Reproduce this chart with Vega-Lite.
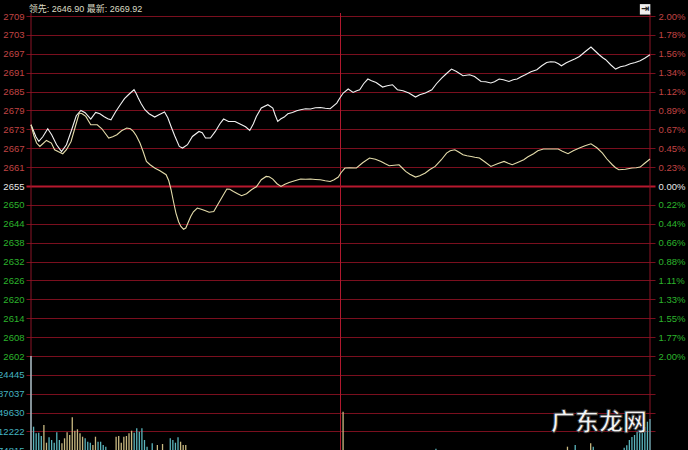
{
"$schema": "https://vega.github.io/schema/vega-lite/v6.json",
"width": 629,
"height": 437,
"autosize": {"type": "none"},
"padding": {"left": 26, "top": 13, "right": 33, "bottom": 0},
"background": "#000000",
"config": {"view": {"stroke": null}, "axis": {"labelFont": "Liberation Sans", "labelFontSize": 9.5, "ticks": false, "domain": false}},
"datasets": {
"white": [{"m":0,"p":2674.55},{"m":1.91,"p":2670.81},{"m":3.05,"p":2669.34},{"m":4.58,"p":2670.81},{"m":6.49,"p":2673.3},{"m":8.01,"p":2671.43},{"m":9.92,"p":2668.31},{"m":11.83,"p":2666.21},{"m":13.74,"p":2668.31},{"m":15.64,"p":2672.68},{"m":17.55,"p":2677.37},{"m":19.35,"p":2679.02},{"m":20.99,"p":2678.3},{"m":23.16,"p":2676.33},{"m":25.07,"p":2678.4},{"m":26.71,"p":2677.99},{"m":28.24,"p":2677.15},{"m":29.76,"p":2676.43},{"m":31.02,"p":2676.12},{"m":32.81,"p":2678.61},{"m":34.61,"p":2680.8},{"m":36.25,"p":2682.68},{"m":37.77,"p":2683.92},{"m":39.95,"p":2685.49},{"m":40.83,"p":2684.24},{"m":41.59,"p":2682.89},{"m":42.73,"p":2681.11},{"m":44.15,"p":2679.24},{"m":45.79,"p":2677.99},{"m":47.96,"p":2676.96},{"m":49.6,"p":2677.68},{"m":51.78,"p":2678.52},{"m":53.04,"p":2676.74},{"m":54.3,"p":2674.02},{"m":55.71,"p":2671.12},{"m":57.5,"p":2667.78},{"m":58.76,"p":2667.28},{"m":60.67,"p":2668.31},{"m":62.58,"p":2670.9},{"m":65.13,"p":2672.46},{"m":66.39,"p":2672.06},{"m":67.65,"p":2670.4},{"m":69.56,"p":2670.4},{"m":71.47,"p":2672.46},{"m":73.26,"p":2674.87},{"m":74.67,"p":2676.33},{"m":76.58,"p":2675.59},{"m":79.1,"p":2675.59},{"m":81.65,"p":2674.55},{"m":83.18,"p":2673.93},{"m":84.82,"p":2672.77},{"m":86.23,"p":2674.87},{"m":87.38,"p":2677.15},{"m":89.29,"p":2679.77},{"m":91.84,"p":2680.8},{"m":93.75,"p":2679.77},{"m":94.63,"p":2677.68},{"m":95.66,"p":2675.59},{"m":96.92,"p":2676.43},{"m":98.18,"p":2676.96},{"m":99.59,"p":2677.99},{"m":101.38,"p":2678.4},{"m":103.02,"p":2678.93},{"m":104.55,"p":2679.24},{"m":106.46,"p":2679.55},{"m":108.36,"p":2679.46},{"m":110.27,"p":2679.86},{"m":112.18,"p":2679.96},{"m":114.09,"p":2679.71},{"m":116.0,"p":2679.55},{"m":118.55,"p":2681.33},{"m":119.81,"p":2682.99},{"m":121.07,"p":2684.46},{"m":122.98,"p":2685.71},{"m":124.89,"p":2684.64},{"m":126.3,"p":2685.17},{"m":127.44,"p":2685.49},{"m":128.97,"p":2687.36},{"m":130.61,"p":2688.83},{"m":132.02,"p":2688.3},{"m":133.81,"p":2687.77},{"m":136.33,"p":2686.33},{"m":138.12,"p":2686.74},{"m":140.15,"p":2687.05},{"m":142.06,"p":2685.49},{"m":144.23,"p":2685.17},{"m":146.52,"p":2684.46},{"m":149.08,"p":2683.21},{"m":150.72,"p":2683.92},{"m":152.89,"p":2684.46},{"m":155.41,"p":2685.49},{"m":157.2,"p":2687.36},{"m":159.22,"p":2689.14},{"m":161.02,"p":2690.48},{"m":163.04,"p":2691.95},{"m":164.95,"p":2691.2},{"m":167.5,"p":2689.86},{"m":170.06,"p":2690.17},{"m":171.97,"p":2689.64},{"m":174.49,"p":2688.08},{"m":176.28,"p":2687.99},{"m":178.3,"p":2687.58},{"m":179.71,"p":2687.99},{"m":181.51,"p":2688.83},{"m":183.15,"p":2688.61},{"m":185.32,"p":2688.08},{"m":186.96,"p":2688.61},{"m":188.49,"p":2688.83},{"m":190.02,"p":2689.55},{"m":191.66,"p":2690.17},{"m":193.83,"p":2691.11},{"m":196.12,"p":2691.73},{"m":198.03,"p":2692.98},{"m":199.94,"p":2694.01},{"m":201.46,"p":2694.23},{"m":203.1,"p":2694.14},{"m":204.52,"p":2693.61},{"m":205.66,"p":2692.98},{"m":207.57,"p":2693.92},{"m":209.48,"p":2694.64},{"m":211.0,"p":2695.17},{"m":212.64,"p":2695.89},{"m":214.82,"p":2697.36},{"m":217.11,"p":2698.82},{"m":218.63,"p":2697.67},{"m":220.28,"p":2696.42},{"m":221.69,"p":2695.48},{"m":222.83,"p":2694.86},{"m":224.74,"p":2693.3},{"m":226.65,"p":2691.95},{"m":228.55,"p":2692.67},{"m":230.46,"p":2692.98},{"m":232.37,"p":2693.61},{"m":234.28,"p":2694.01},{"m":236.19,"p":2694.54},{"m":238.09,"p":2695.39},{"m":240,"p":2696.42}],
"yellow": [{"m":0,"p":2674.55},{"m":1.14,"p":2671.12},{"m":2.17,"p":2668.84},{"m":3.43,"p":2667.78},{"m":4.58,"p":2668.62},{"m":5.99,"p":2669.65},{"m":7.9,"p":2668.84},{"m":9.16,"p":2666.75},{"m":10.68,"p":2666.12},{"m":12.32,"p":2665.5},{"m":13.74,"p":2666.75},{"m":15.53,"p":2669.34},{"m":17.17,"p":2673.93},{"m":18.7,"p":2678.21},{"m":19.84,"p":2677.99},{"m":21.25,"p":2677.15},{"m":23.16,"p":2674.55},{"m":25.68,"p":2674.55},{"m":27.47,"p":2673.3},{"m":30.14,"p":2670.4},{"m":31.67,"p":2670.81},{"m":33.31,"p":2671.43},{"m":35.1,"p":2672.68},{"m":37.13,"p":2673.52},{"m":38.54,"p":2673.3},{"m":39.68,"p":2672.46},{"m":40.83,"p":2671.12},{"m":42.24,"p":2668.84},{"m":43.5,"p":2666.12},{"m":44.76,"p":2663.09},{"m":46.17,"p":2662.06},{"m":47.96,"p":2661.03},{"m":49.98,"p":2660.19},{"m":52.39,"p":2658.94},{"m":53.42,"p":2657.06},{"m":54.3,"p":2654.25},{"m":55.33,"p":2650.19},{"m":56.2,"p":2646.97},{"m":57.23,"p":2644.26},{"m":58.11,"p":2642.79},{"m":59.14,"p":2641.91},{"m":60.02,"p":2642.29},{"m":61.05,"p":2644.26},{"m":61.93,"p":2645.91},{"m":62.96,"p":2647.38},{"m":64.48,"p":2648.54},{"m":66.01,"p":2648.16},{"m":67.65,"p":2647.69},{"m":69.06,"p":2647.22},{"m":70.86,"p":2647.47},{"m":72.76,"p":2650.1},{"m":74.4,"p":2652.38},{"m":75.93,"p":2654.47},{"m":77.08,"p":2654.41},{"m":78.49,"p":2653.72},{"m":80.13,"p":2653.0},{"m":81.65,"p":2652.38},{"m":83.56,"p":2653.0},{"m":85.47,"p":2654.25},{"m":87.38,"p":2655.19},{"m":89.29,"p":2657.38},{"m":91.19,"p":2658.41},{"m":92.34,"p":2658.31},{"m":93.75,"p":2657.59},{"m":95.39,"p":2656.13},{"m":96.92,"p":2655.28},{"m":98.44,"p":2655.97},{"m":100.08,"p":2656.53},{"m":102.26,"p":2657.06},{"m":104.55,"p":2657.59},{"m":106.46,"p":2657.53},{"m":108.36,"p":2657.59},{"m":110.27,"p":2657.47},{"m":112.18,"p":2657.38},{"m":114.09,"p":2657.06},{"m":116.0,"p":2656.84},{"m":117.52,"p":2657.38},{"m":119.16,"p":2658.22},{"m":120.19,"p":2659.56},{"m":121.72,"p":2661.03},{"m":123.63,"p":2661.12},{"m":126.18,"p":2661.03},{"m":128.59,"p":2662.69},{"m":131.26,"p":2664.15},{"m":133.55,"p":2663.78},{"m":135.72,"p":2663.09},{"m":137.36,"p":2662.37},{"m":138.89,"p":2661.75},{"m":140.8,"p":2661.9},{"m":142.7,"p":2662.06},{"m":143.85,"p":2661.12},{"m":145.26,"p":2659.97},{"m":146.9,"p":2659.09},{"m":149.08,"p":2658.22},{"m":150.72,"p":2658.62},{"m":152.89,"p":2659.47},{"m":154.53,"p":2660.5},{"m":156.71,"p":2661.53},{"m":159.11,"p":2663.62},{"m":161.13,"p":2665.71},{"m":162.54,"p":2666.43},{"m":164.34,"p":2666.75},{"m":165.98,"p":2665.96},{"m":167.5,"p":2665.18},{"m":169.03,"p":2664.87},{"m":170.67,"p":2664.65},{"m":172.08,"p":2664.4},{"m":173.88,"p":2664.15},{"m":175.9,"p":2663.0},{"m":178.3,"p":2661.53},{"m":180.86,"p":2662.37},{"m":183.41,"p":2663.09},{"m":185.06,"p":2662.53},{"m":186.58,"p":2662.06},{"m":188.87,"p":2662.84},{"m":191.05,"p":2663.62},{"m":192.69,"p":2664.56},{"m":194.86,"p":2665.5},{"m":196.5,"p":2666.43},{"m":198.68,"p":2666.96},{"m":201.46,"p":2666.96},{"m":204.4,"p":2666.96},{"m":206.04,"p":2666.28},{"m":208.22,"p":2665.5},{"m":210.24,"p":2666.43},{"m":212.64,"p":2667.28},{"m":214.82,"p":2667.99},{"m":217.11,"p":2668.62},{"m":219.4,"p":2667.37},{"m":221.57,"p":2665.71},{"m":223.21,"p":2663.93},{"m":225.39,"p":2662.06},{"m":226.65,"p":2661.12},{"m":227.91,"p":2660.5},{"m":230.46,"p":2660.65},{"m":233.02,"p":2661.03},{"m":234.66,"p":2661.12},{"m":236.19,"p":2661.34},{"m":237.71,"p":2662.37},{"m":240,"p":2663.84}],
"volume": [{"m":0,"v":262000,"d":"open"},{"m":1,"v":121600,"d":"down"},{"m":2,"v":108500,"d":"down"},{"m":3,"v":109700,"d":"down"},{"m":4,"v":103150,"d":"down"},{"m":5,"v":124970,"d":"up"},{"m":6,"v":89860,"d":"up"},{"m":7,"v":100570,"d":"down"},{"m":8,"v":95220,"d":"down"},{"m":9,"v":89860,"d":"down"},{"m":10,"v":110490,"d":"down"},{"m":11,"v":95220,"d":"down"},{"m":12,"v":88670,"d":"up"},{"m":13,"v":98590,"d":"up"},{"m":14,"v":110490,"d":"up"},{"m":15,"v":105140,"d":"up"},{"m":16,"v":140250,"d":"up"},{"m":17,"v":113670,"d":"up"},{"m":18,"v":116440,"d":"up"},{"m":19,"v":108500,"d":"up"},{"m":20,"v":101760,"d":"up"},{"m":21,"v":98590,"d":"down"},{"m":22,"v":91840,"d":"down"},{"m":23,"v":89860,"d":"down"},{"m":24,"v":85300,"d":"up"},{"m":25,"v":101760,"d":"up"},{"m":26,"v":91840,"d":"down"},{"m":27,"v":91840,"d":"down"},{"m":28,"v":85300,"d":"down"},{"m":29,"v":81930,"d":"down"},{"m":33,"v":101760,"d":"up"},{"m":34,"v":103150,"d":"up"},{"m":35,"v":89860,"d":"up"},{"m":36,"v":101760,"d":"up"},{"m":37,"v":103150,"d":"up"},{"m":38,"v":108500,"d":"up"},{"m":39,"v":113670,"d":"up"},{"m":40,"v":109700,"d":"down"},{"m":41,"v":118430,"d":"down"},{"m":42,"v":111680,"d":"down"},{"m":43,"v":118430,"d":"down"},{"m":44,"v":95220,"d":"down"},{"m":45,"v":81930,"d":"down"},{"m":47,"v":88670,"d":"down"},{"m":49,"v":85300,"d":"up"},{"m":51,"v":87280,"d":"up"},{"m":54,"v":98590,"d":"down"},{"m":55,"v":95220,"d":"down"},{"m":56,"v":89860,"d":"down"},{"m":57,"v":100570,"d":"down"},{"m":58,"v":91840,"d":"up"},{"m":59,"v":85300,"d":"up"},{"m":60,"v":85300,"d":"up"},{"m":121,"v":151360,"d":"up"},{"m":157,"v":78000,"d":"down"},{"m":208,"v":81930,"d":"up"},{"m":211,"v":85300,"d":"down"},{"m":217,"v":88670,"d":"up"},{"m":218,"v":81930,"d":"down"},{"m":230,"v":80000,"d":"down"},{"m":231,"v":85000,"d":"down"},{"m":232,"v":95220,"d":"down"},{"m":233,"v":101170,"d":"down"},{"m":234,"v":105140,"d":"down"},{"m":235,"v":111680,"d":"down"},{"m":236,"v":113000,"d":"down"},{"m":237,"v":115050,"d":"down"},{"m":238,"v":121000,"d":"down"},{"m":239,"v":131520,"d":"down"},{"m":240,"v":136880,"d":"down"}],
"header": [{"m": -0.9, "p": 2710.85, "t": "领先: 2646.90 最新: 2669.92"}],
"icon": [{"m": 238.1, "p": 2710.6, "t": "⇥"}]
},
"resolve": {"scale": {"y": "independent"}, "axis": {"y": "independent"}},
"layer": [
{
"data": {"values": [{"m": 0}, {"m": 240}]},
"mark": {"type": "rule", "color": "#8c1426", "strokeWidth": 1},
"encoding": {"x": {"field": "m", "type": "quantitative", "scale": {"domain": [0, 240], "nice": false}, "axis": null}}
},
{
"data": {"values": [{"m": 120}]},
"mark": {"type": "rule", "color": "#b0182e", "strokeWidth": 1},
"encoding": {"x": {"field": "m", "type": "quantitative", "scale": {"domain": [0, 240], "nice": false}, "axis": null}}
},
{
"data": {"name": "volume"},
"mark": {"type": "bar", "size": 1.3},
"encoding": {
"x": {"field": "m", "type": "quantitative", "scale": {"domain": [0, 240], "nice": false}, "axis": null},
"y": {"field": "v", "type": "quantitative", "scale": {"domain": [0, 261852], "range": [475, 343], "nice": false, "zero": true},
"axis": {"orient": "left", "title": null, "values": [74814.86, 112222.29, 149629.71, 187037.14, 224444.57], "format": "d", "labelColor": "#44b4c0", "labelPadding": 2, "grid": true, "gridColor": "#7a0f1e", "gridWidth": 1}},
"color": {"field": "d", "type": "nominal", "scale": {"domain": ["open", "up", "down"], "range": ["#a8dce0", "#c8b880", "#5ab4bc"]}, "legend": null}
}
},
{
"data": {"name": "white"},
"mark": {"type": "line", "color": "#f2f2f2", "strokeWidth": 1.1},
"encoding": {
"x": {"field": "m", "type": "quantitative", "scale": {"domain": [0, 240], "nice": false}, "axis": null},
"y": {"field": "p", "type": "quantitative", "scale": {"domain": [2602.32, 2708.52], "range": [343, 3], "nice": false, "zero": false},
"axis": {"orient": "left", "title": null, "values": [2602.32, 2608.22, 2614.12, 2620.02, 2625.92, 2631.82, 2637.72, 2643.62, 2649.52, 2655.42, 2661.32, 2667.22, 2673.12, 2679.02, 2684.92, 2690.82, 2696.72, 2702.62, 2708.52], "format": "d", "labelPadding": 2,
"labelColor": {"condition": [{"test": "datum.value > 2656", "value": "#c04444"}, {"test": "datum.value < 2655", "value": "#2cb42c"}], "value": "#e8e8e8"},
"grid": true,
"gridColor": {"condition": {"test": "abs(datum.value - 2655.42) < 0.1", "value": "#b8182e"}, "value": "#7a0f1e"},
"gridWidth": {"condition": {"test": "abs(datum.value - 2655.42) < 0.1", "value": 2}, "value": 1}}}
}
},
{
"data": {"name": "yellow"},
"mark": {"type": "line", "color": "#e4dcaa", "strokeWidth": 1.1},
"encoding": {
"x": {"field": "m", "type": "quantitative", "scale": {"domain": [0, 240], "nice": false}, "axis": null},
"y": {"field": "p", "type": "quantitative", "scale": {"domain": [2602.32, 2708.52], "range": [343, 3], "nice": false, "zero": false},
"axis": {"orient": "right", "title": null, "grid": false, "values": [2602.32, 2608.22, 2614.12, 2620.02, 2625.92, 2631.82, 2637.72, 2643.62, 2649.52, 2655.42, 2661.32, 2667.22, 2673.12, 2679.02, 2684.92, 2690.82, 2696.72, 2702.62, 2708.52], "labelPadding": 3,
"labelExpr": "['2.00%','1.77%','1.55%','1.33%','1.11%','0.88%','0.66%','0.44%','0.22%','0.00%','0.23%','0.45%','0.67%','0.89%','1.12%','1.34%','1.56%','1.78%','2.00%'][round((datum.value - 2602.32) / 5.9)]",
"labelColor": {"condition": [{"test": "datum.value > 2656", "value": "#c04444"}, {"test": "datum.value < 2655", "value": "#2cb42c"}], "value": "#e8e8e8"}}}
}
},
{
"data": {"name": "header"},
"mark": {"type": "text", "font": "Liberation Sans, Noto Sans CJK SC", "fontSize": 9, "color": "#dcdcc4", "align": "left", "baseline": "middle"},
"encoding": {
"x": {"field": "m", "type": "quantitative", "scale": {"domain": [0, 240], "nice": false}, "axis": null},
"y": {"field": "p", "type": "quantitative", "scale": {"domain": [2602.32, 2708.52], "range": [343, 3], "nice": false, "zero": false}, "axis": null},
"text": {"field": "t"}
}
},
{
"data": {"name": "icon"},
"mark": {"type": "point", "shape": "square", "filled": true, "size": 110, "color": "#eeeeee", "opacity": 1},
"encoding": {
"x": {"field": "m", "type": "quantitative", "scale": {"domain": [0, 240], "nice": false}, "axis": null},
"y": {"field": "p", "type": "quantitative", "scale": {"domain": [2602.32, 2708.52], "range": [343, 3], "nice": false, "zero": false}, "axis": null}
}
},
{
"data": {"name": "icon"},
"mark": {"type": "text", "font": "DejaVu Sans", "fontSize": 10, "fontWeight": "bold", "color": "#202020", "align": "center", "baseline": "middle"},
"encoding": {
"x": {"field": "m", "type": "quantitative", "scale": {"domain": [0, 240], "nice": false}, "axis": null},
"y": {"field": "p", "type": "quantitative", "scale": {"domain": [2602.32, 2708.52], "range": [343, 3], "nice": false, "zero": false}, "axis": null},
"text": {"field": "t"}
}
},
{
"data": {"values": [{"m": 220.2, "v": 128900, "t": "广东龙网"}]},
"mark": {"type": "text", "font": "Noto Sans CJK SC", "fontWeight": "bold", "fontSize": 24, "fill": "#f4f4f4", "stroke": "#303030", "strokeWidth": 0.8, "align": "center", "baseline": "middle"},
"encoding": {
"x": {"field": "m", "type": "quantitative", "scale": {"domain": [0, 240], "nice": false}, "axis": null},
"y": {"field": "v", "type": "quantitative", "scale": {"domain": [0, 261852], "range": [475, 343], "nice": false}, "axis": null},
"text": {"field": "t"}
}
}
]
}
